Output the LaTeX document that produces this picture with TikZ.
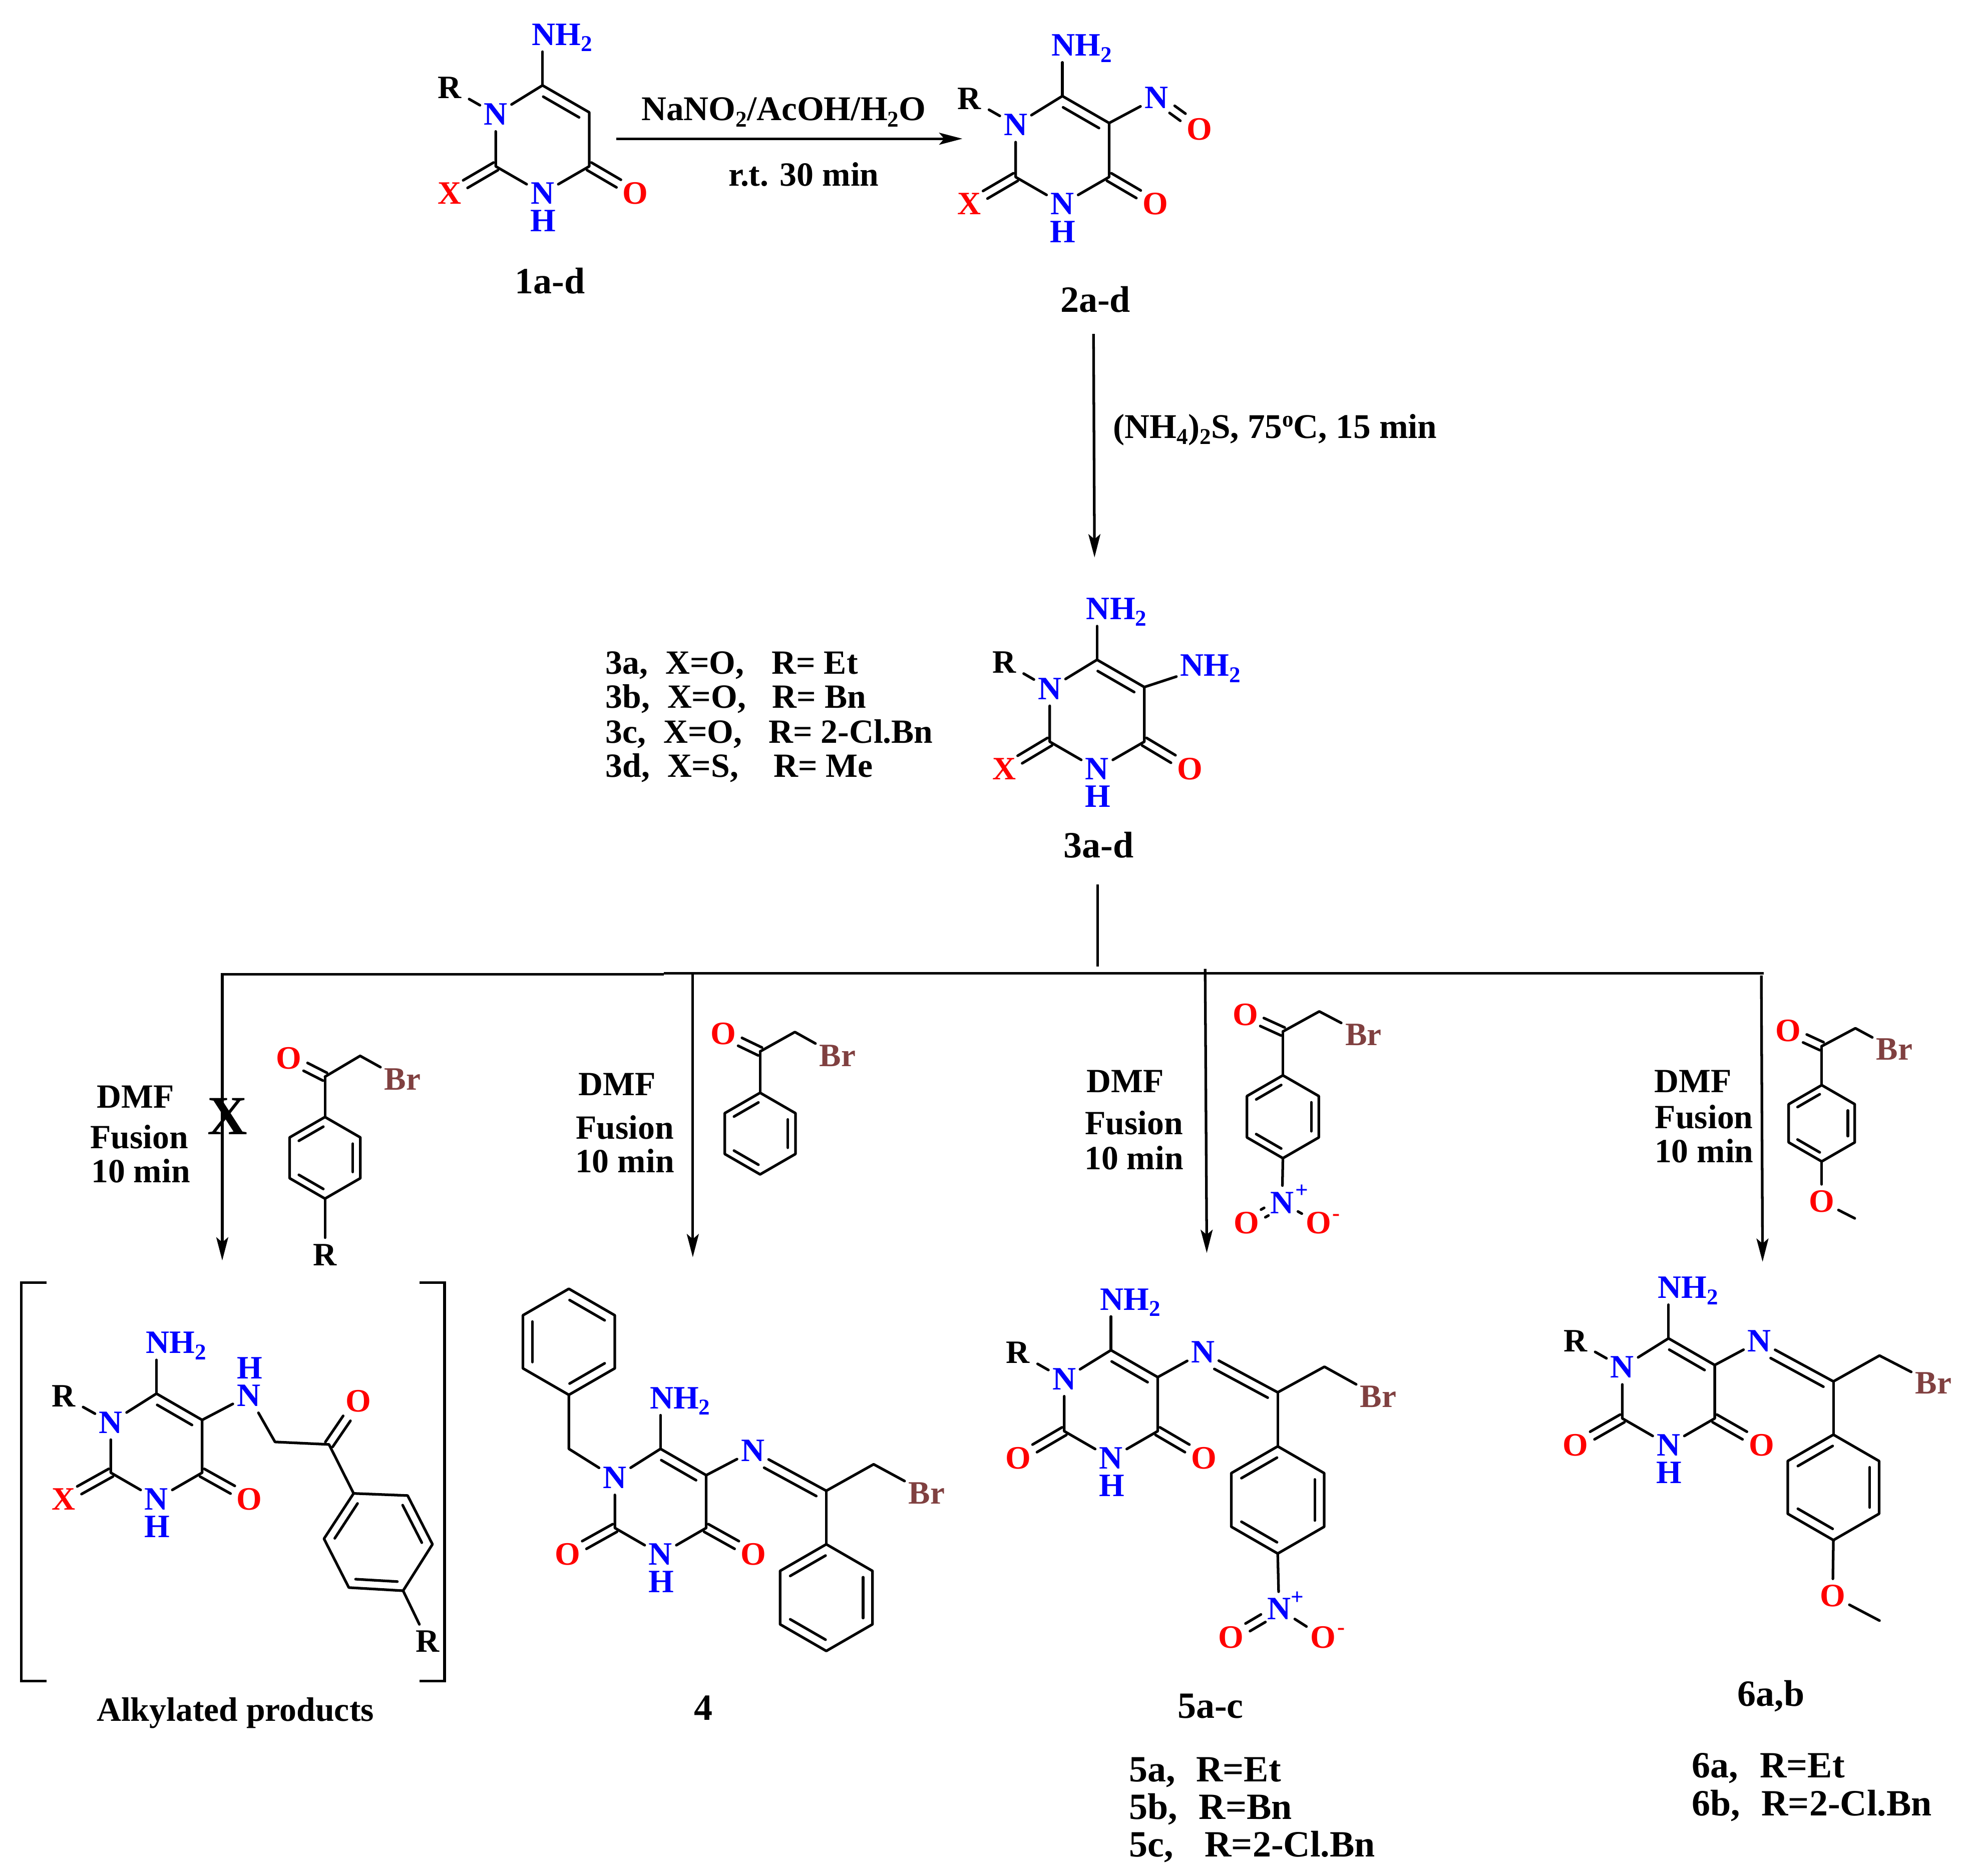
\documentclass[tikz,border=0pt]{standalone}
\usepackage{fontspec}
\setmainfont{Liberation Serif}
\usetikzlibrary{arrows.meta,calc}
\definecolor{brbrown}{RGB}{128,64,64}
\newcommand\subd[1]{\raisebox{-5pt}{\fontsize{18}{18}\selectfont #1}}
\newcommand\supd[1]{\raisebox{9pt}{\fontsize{18}{18}\selectfont #1}}
\tikzset{
 bond/.style={line width=2.1pt,line cap=round,line join=round,black},
 hrule/.style={line width=2.2pt,black},
 conn/.style={line width=2.1pt,black,-{Stealth[length=18.5pt,width=9.5pt,inset=4pt]}},
 atomK/.style={font=\fontsize{26}{26}\selectfont\bfseries,inner xsep=3pt,inner ysep=5pt,text height=17pt,text depth=0pt,black},
 atomR/.style={atomK,inner xsep=6pt},
 atomN/.style={atomK,blue},
 atomH/.style={atomK,blue,inner sep=0pt},
 atomO/.style={atomK,red},
 atomBr/.style={atomK,brbrown},
 chg/.style={font=\fontsize{18}{18}\selectfont\bfseries,inner sep=0pt,text height=8pt,text depth=0pt},
 txt/.style={font=\fontsize{27}{27}\selectfont\bfseries,inner sep=0pt,text height=18pt,text depth=0pt,black},
 txtb/.style={txt,font=\fontsize{27.6}{27.6}\selectfont\bfseries},
 cpd/.style={txt,font=\fontsize{29.5}{29.5}\selectfont\bfseries},
 lst/.style={txt,anchor=west},
 lstb/.style={lst,font=\fontsize{29.5}{29.5}\selectfont\bfseries},
}
% second, inner line of a double bond: from, to, offset (+ = left of travel), shortening at start
\newcommand\bin[4]{%
 \path (#1) -- (#2) coordinate[pos=0] (tA) coordinate[pos=1] (tB);
 \draw[bond,shorten <=#4,shorten >=5pt] ($(tA)!#3!90:(tB)$) -- ($(tB)!#3!-90:(tA)$);
}
% centred double bond
\newcommand\bdb[2]{%
 \path (#1) -- (#2) coordinate[pos=0] (tA) coordinate[pos=1] (tB);
 \draw[bond] ($(tA)!3.5pt!90:(tB)$) -- ($(tB)!3.5pt!-90:(tA)$);
 \draw[bond] ($(tA)!-3.5pt!90:(tB)$) -- ($(tB)!-3.5pt!-90:(tA)$);
}
% pyrimidine ring: prefix, x, y of C6, side, label on C2
\newcommand\pyr[5]{%
 \coordinate (#1C6) at (#2,#3);
 \coordinate (#1C5) at (#2+.866*#4,#3+.5*#4);
 \coordinate (#1C4) at (#2+.866*#4,#3+1.5*#4);
 \coordinate (#1C2) at (#2-.866*#4,#3+1.5*#4);
 \node[atomN] (#1N1) at (#2-.866*#4,#3+23) {N};
 \node[atomN] (#1N3) at (#2,#3+2*#4) {N};
 \node[atomH] (#1H3) at (#2+.5,#3+2*#4+22) {H};
 \node[atomN] (#1NH) at (#2+15.5,#3-40.5) {NH\subd{2}};
 \node[atomO] (#1X) at (#2-74,#3+2*#4) {#5};
 \node[atomO] (#1O) at (#2+74,#3+2*#4) {O};
 \draw[bond] (#1N1) -- (#1C6) -- (#1C5) -- (#1C4) -- (#1N3) -- (#1C2) -- (#1N1);
 \draw[bond] (#1C6) -- (#1C6 |- #1NH.south);
 \bin{#1C5}{#1C6}{7.5pt}{5pt}
 \bdb{#1C4}{#1O}
 \bdb{#1C2}{#1X}
}
% R on N1
\newcommand\rgrp[1]{%
 \node[atomR] (#1R) at ($(#1C6)+(-74,2)$) {R};
 \draw[bond] (#1R) -- (#1N1);
}
% benzene ring with a vertex on top
\newcommand\arylbase[4]{%
 \coordinate (#1a) at (#2,#3);
 \coordinate (#1b) at (#2+.866*#4,#3+.5*#4);
 \coordinate (#1c) at (#2+.866*#4,#3+1.5*#4);
 \coordinate (#1d) at (#2,#3+2*#4);
 \coordinate (#1e) at (#2-.866*#4,#3+1.5*#4);
 \coordinate (#1f) at (#2-.866*#4,#3+.5*#4);
 \draw[bond] (#1a) -- (#1b) -- (#1c) -- (#1d) -- (#1e) -- (#1f) -- cycle;
}
\newcommand\aryl[5]{\arylbase{#1}{#2}{#3}{#4}%
 \bin{#1a}{#1f}{#5}{5pt}\bin{#1c}{#1b}{#5}{5pt}\bin{#1e}{#1d}{#5}{5pt}}
\newcommand\arylB[5]{\arylbase{#1}{#2}{#3}{#4}%
 \bin{#1b}{#1a}{#5}{5pt}\bin{#1f}{#1e}{#5}{5pt}\bin{#1d}{#1c}{#5}{5pt}}
% phenacyl bromide head: prefix, O, C, CH2, Br
\newcommand\phen[5]{%
 \node[atomO] (#1O) at #2 {O};
 \coordinate (#1C) at #3;
 \coordinate (#1H) at #4;
 \node[atomBr] (#1Br) at #5 {Br};
 \bdb{#1C}{#1O}
 \draw[bond] (#1C) -- (#1H) -- (#1Br);
}
\begin{document}
\begin{tikzpicture}[x=1pt,y=-1pt]
\useasboundingbox (0,0) rectangle (1568,1494);
\fill[white] (0,0) rectangle (1568,1494);

% --- compound 1
\pyr{a}{432}{68}{43}{X}
\rgrp{a}
\node[cpd] (l1) at (438,225) {1a-d};

% --- compound 2
\pyr{b}{846}{76.5}{43}{X}
\rgrp{b}
\node[atomN] (bNo) at (920.8,78) {N};
\node[atomO] (bOn) at (955.3,103) {O};
\draw[bond] (bC5) -- (bNo);
\bdb{bNo}{bOn}
\node[cpd] (l2) at (872.3,239.4) {2a-d};

% --- step 1
\coordinate (s1a) at (490.6,110.5);
\coordinate (s1b) at (766.4,110.5);
\draw[conn] (s1a) -- (s1b);
\node[txtb] (t1) at (624,87) {NaNO\subd{2}/AcOH/H\subd{2}O};
\node[txt] (t2) at (640,139) {r.t. 30 min};

% --- step 2
\coordinate (s2a) at (870.8,266);
\coordinate (s2b) at (871.6,444);
\draw[conn] (s2a) -- (s2b);
\node[txtb] (t3) at (1015.5,340) {(NH\subd{4})\subd{2}S, 75\supd{o}C, 15 min};

% --- compound 3
\pyr{c}{873.6}{525.5}{43.5}{X}
\rgrp{c}
\node[atomN] (cNH5) at (964,530) {NH\subd{2}};
\draw[bond] (cC5) -- (cNH5);
\node[cpd] (l3) at (875,674) {3a-d};
\node[lst] (li1) at (482,527.8) {3a,\hspace{14pt}X=O,\hspace{22pt}R= Et};
\node[lst] (li2) at (482,555) {3b,\hspace{14pt}X=O,\hspace{21pt}R= Bn};
\node[lst] (li3) at (482,582.7) {3c,\hspace{14pt}X=O,\hspace{21pt}R= 2-Cl.Bn};
\node[lst] (li4) at (482,610) {3d,\hspace{14pt}X=S,\hspace{28pt}R= Me};

% --- branch lines
\coordinate (j0) at (874,704.5);
\coordinate (j1) at (874,770);
\draw[hrule] (j0) -- (j1);
\coordinate (h1) at (177,776);
\coordinate (h2) at (528.6,776);
\coordinate (h3) at (528.6,775.3);
\coordinate (h4) at (1404.5,775.3);
\draw[hrule] (h1) -- (h2);
\draw[hrule] (h3) -- (h4);
\coordinate (a1a) at (177,775);  \coordinate (a1b) at (177,1004);
\coordinate (a2a) at (551.7,775); \coordinate (a2b) at (551.7,1001.4);
\coordinate (a3a) at (959.7,771.7); \coordinate (a3b) at (961,998);
\coordinate (a4a) at (1402.6,777); \coordinate (a4b) at (1403.6,1005);
\draw[conn] (a1a) -- (a1b);
\draw[conn] (a2a) -- (a2b);
\draw[conn] (a3a) -- (a3b);
\draw[conn] (a4a) -- (a4b);

% --- branch conditions
\node[txt] (d1) at (107.8,873.6) {DMF};
\node[txt] (f1) at (111,905.6) {Fusion};
\node[txt] (m1) at (112,933) {10 min};
\node[font=\fontsize{44}{44}\selectfont\bfseries,inner sep=0pt] (nox) at (181,889) {X};
\node[txt] (d2) at (491.4,863.5) {DMF};
\node[txt] (f2) at (497.5,898) {Fusion};
\node[txt] (m2) at (497.5,925) {10 min};
\node[txt] (d3) at (896,861) {DMF};
\node[txt] (f3) at (903,894.6) {Fusion};
\node[txt] (m3) at (903,922.3) {10 min};
\node[txt] (d4) at (1348.3,861) {DMF};
\node[txt] (f4) at (1357,890) {Fusion};
\node[txt] (m4) at (1357,917) {10 min};

% --- reagents
\phen{p}{(230,843)}{(258.8,857.6)}{(286.8,841)}{(320.6,859.8)}
\aryl{pr}{258.8}{889.7}{32.5}{6pt}
\node[atomK] (pR) at (258.8,999.5) {R};
\draw[bond] (pC) -- (pra);
\draw[bond] (prd) -- (pR);

\phen{q}{(576,823.4)}{(605.3,837.5)}{(633,822)}{(667,841)}
\aryl{qr}{605.3}{870.4}{32.5}{6pt}
\draw[bond] (qC) -- (qra);

\phen{u}{(991.7,808)}{(1021.6,821.6)}{(1050.6,805.6)}{(1085.7,824)}
\aryl{ur}{1021.6}{856.5}{33}{6pt}
\node[atomN] (uN) at (1021,958) {N};
\node[chg,blue] (uNp) at (1036.6,950) {+};
\node[atomO] (uOa) at (992.6,974) {O};
\node[atomO] (uOb) at (1050,974) {O};
\node[chg,red] (uOm) at (1064,968) {-};
\draw[bond] (uC) -- (ura);
\draw[bond] (urd) -- (uN);
\draw[bond] (uN) -- (uOb);
\bdb{uOa}{uN}

\phen{v}{(1424,821)}{(1450.7,833.3)}{(1477.5,819)}{(1508.6,835.8)}
\aryl{vr}{1450.7}{864.3}{30.4}{5.5pt}
\node[atomO] (vO) at (1450.7,957) {O};
\coordinate (vMe) at (1477,970.4);
\draw[bond] (vC) -- (vra);
\draw[bond] (vrd) -- (vO);
\draw[bond] (vO) -- (vMe);

% --- alkylated product
\pyr{e}{124.6}{1110}{42}{X}
\rgrp{e}
\node[atomN] (eNH) at (198,1111.6) {N};
\node[atomH] (eH) at (199,1089.6) {H};
\coordinate (eCH) at (219,1148.5);
\coordinate (eCO) at (262,1150.5);
\node[atomO] (eOk) at (285.5,1116) {O};
\coordinate (era) at (281.6,1189.5);
\coordinate (erb) at (324.6,1191.2);
\coordinate (erc) at (344.4,1230);
\coordinate (erd) at (321,1267);
\coordinate (ere) at (277.8,1264.5);
\coordinate (erf) at (258,1225.6);
\node[atomK] (eR2) at (340.6,1307.5) {R};
\draw[bond] (eC5) -- (eNH) -- (eCH) -- (eCO) -- (era);
\bdb{eCO}{eOk}
\draw[bond] (era) -- (erb) -- (erc) -- (erd) -- (ere) -- (erf) -- cycle;
\bin{era}{erf}{7pt}{5pt}
\bin{erc}{erb}{7pt}{5pt}
\bin{ere}{erd}{7pt}{5pt}
\draw[bond] (erd) -- (eR2);
\coordinate (bl1) at (37,1021.6);
\coordinate (bl2) at (17,1021.6);
\coordinate (bl3) at (17,1339);
\coordinate (bl4) at (37,1339);
\coordinate (br1) at (334,1021.6);
\coordinate (br2) at (354,1021.6);
\coordinate (br3) at (354,1339);
\coordinate (br4) at (334,1339);
\draw[hrule,line join=miter] (bl1) -- (bl2) -- (bl3) -- (bl4);
\draw[hrule,line join=miter] (br1) -- (br2) -- (br3) -- (br4);
\node[txt] (lalk) at (187.4,1362) {Alkylated products};

% --- compound 4
\pyr{g}{526}{1154}{42}{O}
\arylB{gb}{453}{1026.5}{42.25}{7.5pt}
\coordinate (gCH) at (453,1154);
\draw[bond] (gN1) -- (gCH) -- (gbd);
\node[atomN] (gNi) at (599.5,1155.6) {N};
\coordinate (gCi) at (658,1187.4);
\coordinate (gCb) at (695.7,1166.3);
\node[atomBr] (gBr) at (738,1189.2) {Br};
\draw[bond] (gC5) -- (gNi) -- (gCi) -- (gCb) -- (gBr);
\bin{gNi}{gCi}{-7.5pt}{0pt}
\aryl{gp}{658}{1230}{42.5}{7.5pt}
\draw[bond] (gCi) -- (gpa);
\node[cpd] (l4) at (560,1361) {4};

% --- compound 5
\pyr{h}{884.7}{1075.4}{43}{O}
\rgrp{h}
\node[atomN] (hNi) at (958,1077) {N};
\coordinate (hCi) at (1017.5,1109);
\coordinate (hCb) at (1054.7,1088.6);
\node[atomBr] (hBr) at (1097.6,1112.4) {Br};
\draw[bond] (hC5) -- (hNi) -- (hCi) -- (hCb) -- (hBr);
\bin{hNi}{hCi}{-7.5pt}{0pt}
\aryl{hp}{1017.5}{1152}{42.7}{7.5pt}
\draw[bond] (hCi) -- (hpa);
\node[atomN] (hN) at (1018.5,1281.5) {N};
\node[chg,blue] (hNp) at (1033,1274) {+};
\node[atomO] (hOa) at (980.3,1304) {O};
\node[atomO] (hOb) at (1053.7,1304) {O};
\node[chg,red] (hOm) at (1068,1298) {-};
\draw[bond] (hpd) -- (hN);
\draw[bond] (hN) -- (hOb);
\bdb{hN}{hOa}
\node[cpd] (l5) at (964,1359.5) {5a-c};
\node[lstb] (li5) at (899,1410) {5a,\hspace{16.5pt}R=Et};
\node[lstb] (li6) at (899,1440) {5b,\hspace{17pt}R=Bn};
\node[lstb] (li7) at (899,1470) {5c,\hspace{25pt}R=2-Cl.Bn};

% --- compound 6
\pyr{k}{1328.7}{1066}{42.5}{O}
\rgrp{k}
\node[atomN] (kNi) at (1401,1068.3) {N};
\coordinate (kCi) at (1460,1100.3);
\coordinate (kCb) at (1496.7,1079.7);
\node[atomBr] (kBr) at (1539.6,1101.8) {Br};
\draw[bond] (kC5) -- (kNi) -- (kCi) -- (kCb) -- (kBr);
\bin{kNi}{kCi}{-7.5pt}{0pt}
\aryl{kp}{1460}{1142.7}{42}{7.5pt}
\draw[bond] (kCi) -- (kpa);
\node[atomO] (kO) at (1459.4,1271.2) {O};
\coordinate (kMe) at (1496.7,1290.8);
\draw[bond] (kpd) -- (kO);
\draw[bond] (kO) -- (kMe);
\node[cpd] (l6) at (1410.4,1350) {6a,b};
\node[lstb] (li8) at (1347,1407) {6a,\hspace{17.4pt}R=Et};
\node[lstb] (li9) at (1347,1437) {6b,\hspace{17pt}R=2-Cl.Bn};
\end{tikzpicture}
\end{document}
